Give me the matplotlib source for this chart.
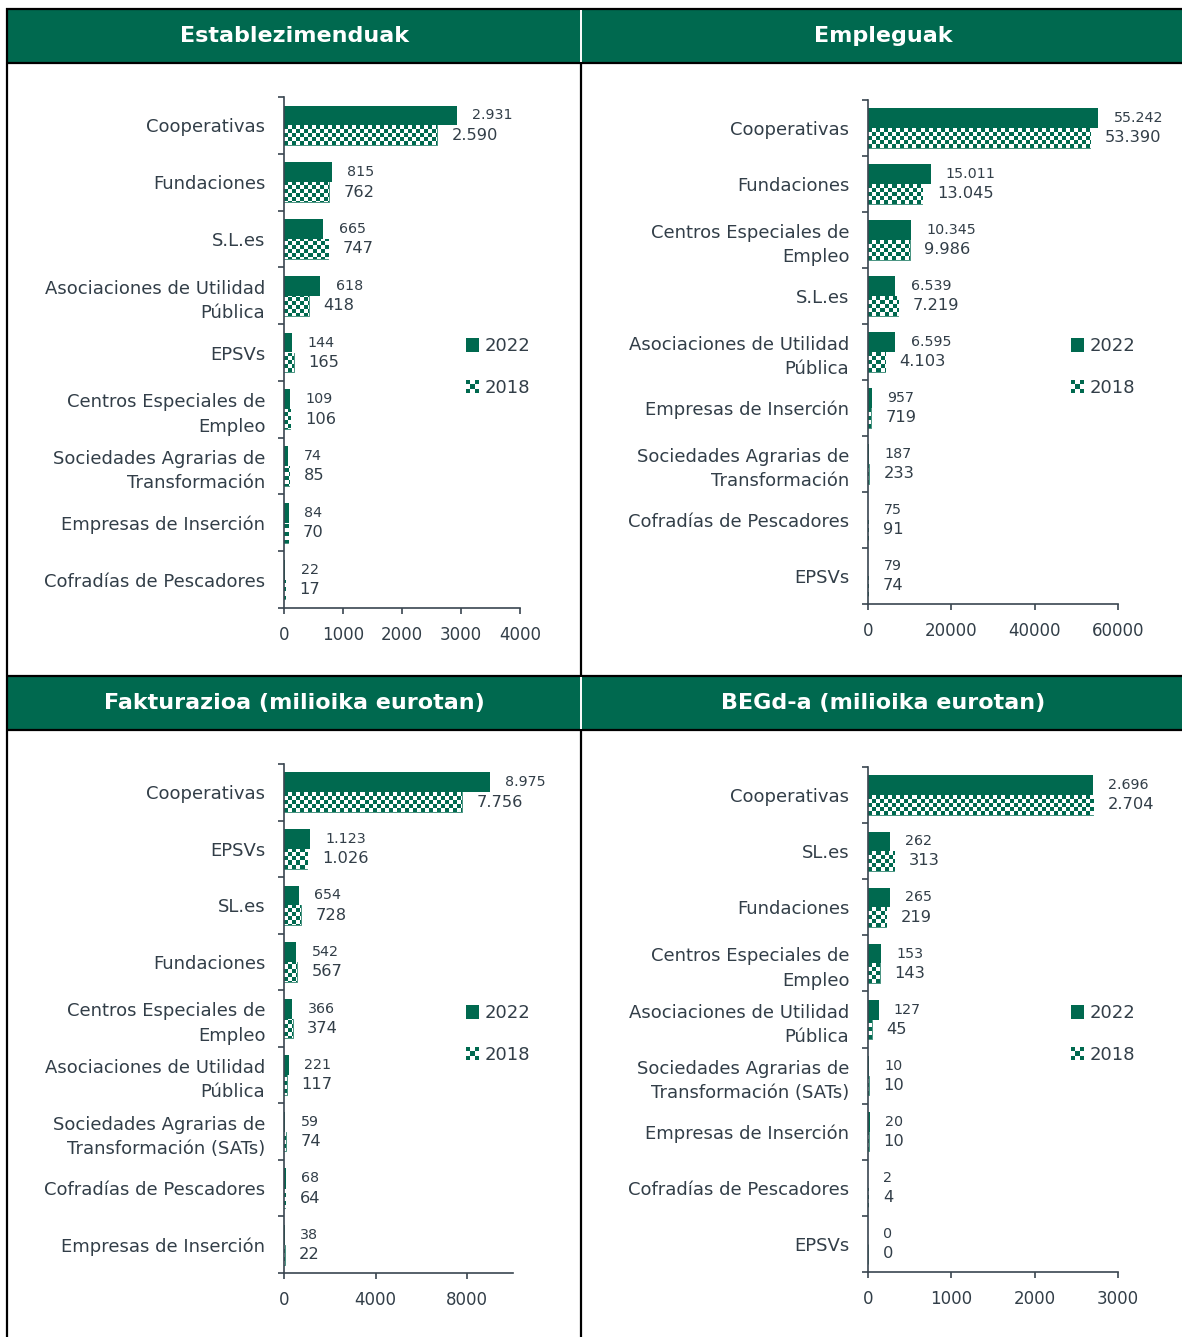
import numpy as np
import matplotlib
matplotlib.use('Agg')
import matplotlib.pyplot as plt
from matplotlib.patches import Rectangle
from matplotlib.legend_handler import HandlerBase

W, H = 1182, 1337
GREEN = '#00694F'
TEXT = '#323E48'
AXIS = '#3A4650'

# ── datos ───────────────────────────────────────
titles = ['Establezimenduak', 'Empleguak',
          'Fakturazioa (milioika eurotan)', 'BEGd-a (milioika eurotan)']

cats_estab = ['Cooperativas', 'Fundaciones', 'S.L.es', 'Asociaciones de Utilidad\nPública',
              'EPSVs', 'Centros Especiales de\nEmpleo', 'Sociedades Agrarias de\nTransformación',
              'Empresas de Inserción', 'Cofradías de Pescadores']
estab_2022 = [2931, 815, 665, 618, 144, 109, 74, 84, 22]
estab_2018 = [2590, 762, 747, 418, 165, 106, 85, 70, 17]

cats_empleo = ['Cooperativas', 'Fundaciones', 'Centros Especiales de\nEmpleo', 'S.L.es',
               'Asociaciones de Utilidad\nPública', 'Empresas de Inserción',
               'Sociedades Agrarias de\nTransformación', 'Cofradías de Pescadores', 'EPSVs']
empleo_2022 = [55242, 15011, 10345, 6539, 6595, 957, 187, 75, 79]
empleo_2018 = [53390, 13045, 9986, 7219, 4103, 719, 233, 91, 74]

cats_fact = ['Cooperativas', 'EPSVs', 'SL.es', 'Fundaciones', 'Centros Especiales de\nEmpleo',
             'Asociaciones de Utilidad\nPública', 'Sociedades Agrarias de\nTransformación (SATs)',
             'Cofradías de Pescadores', 'Empresas de Inserción']
fact_2022 = [8975, 1123, 654, 542, 366, 221, 59, 68, 38]
fact_2018 = [7756, 1026, 728, 567, 374, 117, 74, 64, 22]

cats_begd = ['Cooperativas', 'SL.es', 'Fundaciones', 'Centros Especiales de\nEmpleo',
             'Asociaciones de Utilidad\nPública', 'Sociedades Agrarias de\nTransformación (SATs)',
             'Empresas de Inserción', 'Cofradías de Pescadores', 'EPSVs']
begd_2022 = [2696, 262, 265, 153, 127, 10, 20, 2, 0]
begd_2018 = [2704, 313, 219, 143, 45, 10, 10, 4, 0]

years = ['2022', '2018']


def px_rect(x0, y0, x1, y1):
    return [x0 / W, 1 - y1 / H, (x1 - x0) / W, (y1 - y0) / H]


def fmt(v):
    return f"{v:,}".replace(",", ".")


def checker_rgba(nx, ny):
    c = np.indices((ny, nx)).sum(0) % 2
    rgba = np.ones((ny, nx, 4))
    g = matplotlib.colors.to_rgb(GREEN)
    for k in range(3):
        rgba[..., k] = np.where(c == 1, g[k], 1.0)
    return rgba


class CheckerHandler(HandlerBase):
    def create_artists(self, legend, orig_handle, xdescent, ydescent,
                       width, height, fontsize, trans):
        n = 3
        s = min(width, height)
        cell = s / n
        x0 = -xdescent
        y0 = -ydescent + (height - s) / 2
        arts = []
        for i in range(n):
            for j in range(n):
                col = GREEN if (i + j) % 2 == 0 else 'white'
                arts.append(Rectangle((x0 + i * cell, y0 + j * cell), cell, cell,
                                      facecolor=col, edgecolor='none', transform=trans))
        return arts


class SquareHandler(HandlerBase):
    def create_artists(self, legend, orig_handle, xdescent, ydescent,
                       width, height, fontsize, trans):
        s = min(width, height)
        return [Rectangle((-xdescent, -ydescent + (height - s) / 2), s, s,
                          facecolor=GREEN, edgecolor='none', transform=trans)]


fig = plt.figure(figsize=(W / 100, H / 100), dpi=100)

# ── marco de tabla y cabeceras ──────────────────
bg = fig.add_axes([0, 0, 1, 1])
bg.set_xlim(0, W)
bg.set_ylim(H, 0)
bg.axis('off')
bg.add_patch(Rectangle((7, 9), 574, 54, color=GREEN, lw=0))
bg.add_patch(Rectangle((581, 9), W - 581, 54, color=GREEN, lw=0))
bg.add_patch(Rectangle((7, 676), 574, 54, color=GREEN, lw=0))
bg.add_patch(Rectangle((581, 676), W - 581, 54, color=GREEN, lw=0))
lw = 1.6
for yy in [9, 63, 676, 730]:
    bg.plot([6, W], [yy, yy], color='black', lw=lw, solid_capstyle='butt')
bg.plot([7, 7], [8, H], color='black', lw=lw, solid_capstyle='butt')
bg.plot([581, 581], [63, 676], color='black', lw=lw, solid_capstyle='butt')
bg.plot([581, 581], [730, H], color='black', lw=lw, solid_capstyle='butt')
bg.plot([581, 581], [10, 62], color='white', lw=1.4, solid_capstyle='butt')
bg.plot([581, 581], [677, 729], color='white', lw=1.4, solid_capstyle='butt')

header_pos = [(294, 36), (883, 36), (294, 703), (883, 703)]
for (hx, hy), t in zip(header_pos, titles):
    bg.text(hx, hy, t, ha='center', va='center', color='white',
            fontsize=16, fontweight='bold')


# ── paneles ─────────────────────────────────────
def draw_panel(box, cats, v22, v18, xmax, xticks, leg_xy):
    ax = fig.add_axes(px_rect(*box))
    wpx, hpx = box[2] - box[0], box[3] - box[1]
    y = np.arange(len(cats))
    b22 = ax.barh(y - 0.175, v22, height=0.35, color=GREEN, zorder=2, label=years[0])
    b18 = ax.barh(y + 0.175, v18, height=0.35, color='white', edgecolor=GREEN,
                  lw=0.5, zorder=2, label=years[1])
    pat = checker_rgba(int(round(wpx / 4)), int(round(hpx / 4)))
    for bar in b18:
        im = ax.imshow(pat, extent=(0, 1, 0, 1), transform=ax.transAxes,
                       interpolation='nearest', aspect='auto', zorder=2.5)
        im.set_clip_path(bar)

    for yi, a, b in zip(y, v22, v18):
        ax.annotate(fmt(a), xy=(a, yi - 0.175), xytext=(11, 0), textcoords='offset points',
                    ha='left', va='center', fontsize=10.3, color=TEXT)
        ax.annotate(fmt(b), xy=(b, yi + 0.175), xytext=(10.5, 0), textcoords='offset points',
                    ha='left', va='center', fontsize=11.7, color=TEXT)

    ax.set_xlim(0, xmax)
    ax.set_ylim(len(cats) - 0.5, -0.5)
    ax.set_yticks(y)
    ax.set_yticklabels(cats, fontsize=13, color=TEXT, linespacing=1.45)
    ax.set_yticks(np.arange(-0.5, len(cats)), minor=True)
    ax.tick_params(axis='y', which='major', length=0, pad=13.5)
    ax.tick_params(axis='y', which='minor', length=4.5, width=1.2, color=AXIS)
    ax.set_xticks(xticks)
    ax.tick_params(axis='x', length=4, width=1.2, color=AXIS, pad=9,
                   labelsize=12, labelcolor=TEXT)
    for s in ['top', 'right']:
        ax.spines[s].set_visible(False)
    for s in ['left', 'bottom']:
        ax.spines[s].set_color(AXIS)
        ax.spines[s].set_linewidth(1.2)
    ax.set_facecolor('none')

    leg = ax.legend([b22, b18], years, loc='center left',
                    bbox_to_anchor=(leg_xy[0] / W, 1 - leg_xy[1] / H),
                    bbox_transform=fig.transFigure, frameon=False, fontsize=13,
                    borderpad=0, borderaxespad=0, handlelength=0.75, handleheight=0.75,
                    handletextpad=0.3, labelspacing=1.3,
                    handler_map={b22: SquareHandler(), b18: CheckerHandler()})
    for t in leg.get_texts():
        t.set_color(TEXT)
    return ax


draw_panel((284, 97, 520, 608), cats_estab, estab_2022, estab_2018, 4000,
           [0, 1000, 2000, 3000, 4000], (466, 367))
draw_panel((868, 100, 1118, 604), cats_empleo, empleo_2022, empleo_2018, 60000,
           [0, 20000, 40000, 60000], (1071, 367))
draw_panel((284, 764, 513, 1273), cats_fact, fact_2022, fact_2018, 10000,
           [0, 4000, 8000], (466, 1034))
draw_panel((868, 767, 1118, 1272), cats_begd, begd_2022, begd_2018, 3000,
           [0, 1000, 2000, 3000], (1071, 1034))

fig.savefig('out.png', dpi=100)
